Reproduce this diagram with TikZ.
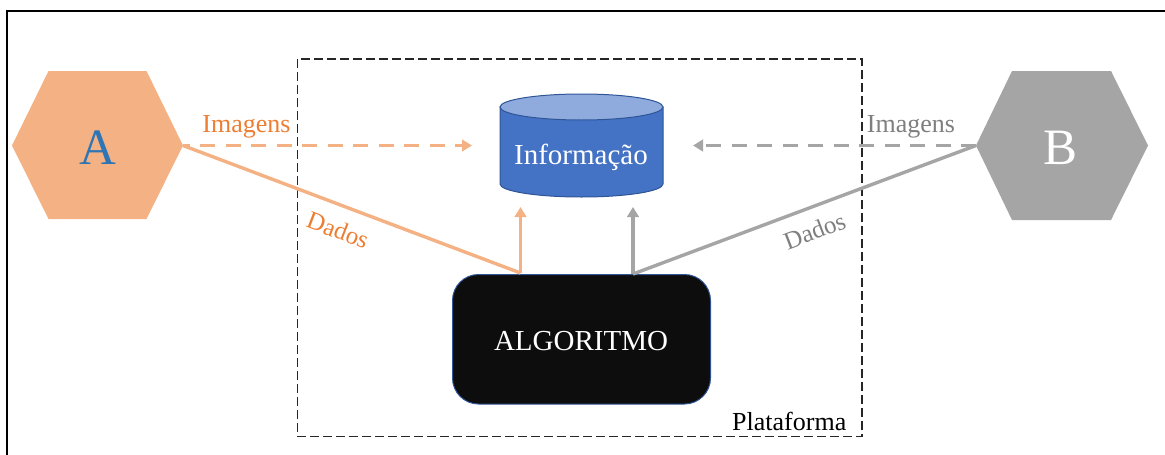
\documentclass[tikz,border=0pt]{standalone}
\usepackage{fontspec}
\setmainfont{Liberation Serif}
\usetikzlibrary{arrows.meta}
\definecolor{orangefill}{HTML}{F4B183}
\definecolor{orangetext}{HTML}{ED7D31}
\definecolor{letterblue}{HTML}{2E75B6}
\definecolor{grayfill}{HTML}{A5A5A5}
\definecolor{graytext}{HTML}{7F7F7F}
\definecolor{dbbody}{HTML}{4472C4}
\definecolor{dbtop}{HTML}{8FAADC}
\definecolor{dbedge}{HTML}{2F5597}
\definecolor{algofill}{HTML}{0D0D0D}
\newcommand{\fsz}[1]{\fontsize{#1}{#1}\selectfont}
\tikzset{
  x=1pt, y=-1pt,
  flowtip/.style={-{Triangle[length=10pt,width=11.5pt]}},
  datadash/.style={line width=3.8pt, dash pattern=on 15pt off 10.5pt},
  dataline/.style={line width=3.4pt},
  lab/.style={inner sep=0pt, font=\fsz{26}},
  slant/.style={inner sep=0pt, font=\fsz{25}},
}
\begin{document}
\begin{tikzpicture}
\path[use as bounding box] (0,0) rectangle (1165,455);
% frame
\draw[line width=2pt, black] (6.5,456) -- (6.5,10.5) -- (1166,10.5);
% platform
\draw[line width=1.2pt, black!85, dash pattern=on 9pt off 4pt] (297.5,59) rectangle (862,436.5);
\node[inner sep=0pt, anchor=base east, font=\fsz{26}] (plat) at (846.5,430) {Plataforma};
% hexagons
\fill[orangefill] (12,145.5) -- (48.5,71) -- (146.5,71) -- (183,145.5) -- (146.5,219) -- (48.5,219) -- cycle;
\fill[grayfill] (976,145.5) -- (1012,71) -- (1111,71) -- (1148,145.5) -- (1111,220) -- (1012,220) -- cycle;
\node[inner sep=0pt, anchor=base, text=letterblue, font=\fsz{51}] (hexa) at (97.5,164.5) {A};
\node[inner sep=0pt, anchor=base, text=white, font=\fsz{51}] (hexb) at (1060,164.5) {B};
\coordinate (aout) at (183,145.5);
\coordinate (bout) at (976,145.5);
% database
\path[fill=dbbody, draw=dbedge, line width=1pt]
  (500,107) -- (500,184) .. controls (500,191.2) and (536.5,197) .. (581.5,197)
  .. controls (626.5,197) and (663,191.2) .. (663,184) -- (663,107) -- cycle;
\path[fill=dbtop, draw=dbedge, line width=1pt]
  (500,107) .. controls (500,99.8) and (536.5,94) .. (581.5,94)
  .. controls (626.5,94) and (663,99.8) .. (663,107)
  .. controls (663,114.2) and (626.5,120) .. (581.5,120)
  .. controls (536.5,120) and (500,114.2) .. (500,107) -- cycle;
\node[inner sep=0pt, anchor=base, text=white, font=\fsz{29}] (info) at (581,164) {Informação};
\coordinate (infoa) at (520.5,207);
\coordinate (infob) at (633,207);
\coordinate (infol) at (472,145.5);
\coordinate (infor) at (693,145.5);
% algorithm
\draw[fill=algofill, draw=dbedge, line width=1pt, rounded corners=26pt] (452.5,274.5) rectangle (710.5,404);
\node[inner sep=0pt, anchor=base, text=white, font=\fsz{29}] (algo) at (581,350) {ALGORITMO};
\coordinate (algoa) at (520.5,273);
\coordinate (algob) at (633,274);
% connectors
\draw[orangefill, datadash, dash phase=8.5pt, flowtip] (aout) -- (infol);
\draw[grayfill, datadash, flowtip] (bout) -- (infor);
\draw[orangefill, dataline] (aout) -- (algoa);
\draw[grayfill, dataline] (bout) -- (algob);
\draw[orangefill, dataline, flowtip] (algoa) -- (infoa);
\draw[grayfill, dataline, flowtip] (algob) -- (infob);
% labels
\node[lab, anchor=base, text=orangetext] (ima) at (246.5,132) {Imagens};
\node[lab, anchor=base, text=graytext] (imb) at (911,132) {Imagens};
\node[slant, text=orangetext, rotate=-21] (daa) at (338,230) {Dados};
\node[slant, text=graytext, rotate=21] (dab) at (814.5,231) {Dados};
\end{tikzpicture}
\end{document}
